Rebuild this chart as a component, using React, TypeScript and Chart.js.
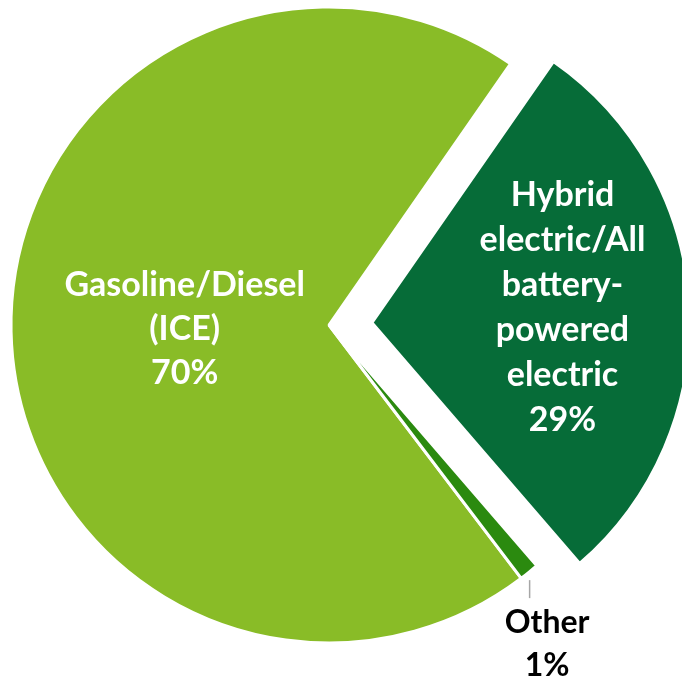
import React, { useEffect, useRef } from "react";
import { Chart, registerables } from "chart.js";

Chart.register(...registerables);

// Share of vehicles by powertrain
const categories = ["Gasoline/Diesel (ICE)", "Hybrid electric/All battery-powered electric", "Other"];
const shares = [70, 29, 1];
const labelLines = [
  ["Gasoline/Diesel", "(ICE)", "70%"],
  ["Hybrid", "electric/All", "battery-", "powered", "electric", "29%"],
  ["Other", "1%"],
];
const sliceColors = ["#89BC27", "#066C38", "#2B8A0F"];
// how far each slice is pulled out from the centre, in px
const explode = [0, 43, 0];

const FONT = "bold 34px Lato, 'Noto Sans', sans-serif";
const OTHER_FONT = "bold 32px Lato, 'Noto Sans', sans-serif";
const CAP_HALF = 12;

// Pull slices out along their mid-angle by translating the arc before it draws
const explodeSlices = {
  id: "explodeSlices",
  afterDatasetUpdate(chart: any, args: any) {
    const meta = chart.getDatasetMeta(args.index);
    meta.data.forEach((arc: any, i: number) => {
      const d = explode[i];
      if (!d) return;
      const baseDraw = Object.getPrototypeOf(arc).draw;
      arc.draw = function (ctx: CanvasRenderingContext2D) {
        const mid = (this.startAngle + this.endAngle) / 2;
        ctx.save();
        ctx.translate(Math.cos(mid) * d, Math.sin(mid) * d);
        baseDraw.call(this, ctx);
        ctx.restore();
      };
    });
  },
};

const sliceLabels = {
  id: "sliceLabels",
  afterDatasetsDraw(chart: any) {
    const ctx: CanvasRenderingContext2D = chart.ctx;
    const meta = chart.getDatasetMeta(0);
    ctx.save();
    ctx.textAlign = "center";
    ctx.textBaseline = "alphabetic";
    meta.data.forEach((arc: any, i: number) => {
      const { x, y, startAngle, endAngle, outerRadius } = arc.getProps(
        ["x", "y", "startAngle", "endAngle", "outerRadius"],
        true
      );
      const mid = (startAngle + endAngle) / 2;
      const off = explode[i];
      const lines = labelLines[i];
      if (i < 2) {
        // labels inside the slice
        ctx.font = FONT;
        const f = i === 0 ? 0.454 : 0.6;
        const ax = x + Math.cos(mid) * (off + outerRadius * f);
        const ay = y + Math.sin(mid) * (off + outerRadius * f) - (i === 1 ? 6 : 0);
        const lh = i === 0 ? 44 : 45;
        ctx.fillStyle = "#ffffff";
        lines.forEach((t, k) => {
          ctx.fillText(t, ax, ay - ((lines.length - 1) / 2) * lh + k * lh + CAP_HALF);
        });
      } else {
        // small slice: leader line and label below its rim
        const px = x + Math.cos(mid) * (outerRadius + off);
        const py = y + Math.sin(mid) * (outerRadius + off);
        ctx.strokeStyle = "#A6A6A6";
        ctx.lineWidth = 1.5;
        ctx.beginPath();
        ctx.moveTo(px + 0.5, py + 8);
        ctx.lineTo(px + 0.5, py + 26);
        ctx.stroke();
        ctx.font = OTHER_FONT;
        ctx.fillStyle = "#000000";
        const tx = px + 18;
        lines.forEach((t, k) => {
          ctx.fillText(t, tx, py + 61 + k * 43);
        });
      }
    });
    ctx.restore();
  },
};

export default function App() {
  const ref = useRef<HTMLCanvasElement | null>(null);
  useEffect(() => {
    if (!ref.current) return;
    const chart = new Chart(ref.current, {
      type: "pie",
      data: {
        labels: categories,
        datasets: [
          {
            data: shares,
            backgroundColor: sliceColors,
            borderColor: "#ffffff",
            borderWidth: 3,
            clip: false as any,
          },
        ],
      },
      options: {
        responsive: false,
        animation: false,
        devicePixelRatio: 1,
        rotation: 142.8,
        radius: 318,
        layout: { padding: { left: 0, top: 0, right: 24, bottom: 31 } },
        plugins: {
          legend: { display: false },
          tooltip: { enabled: false },
        },
      },
      plugins: [explodeSlices, sliceLabels],
    });
    return () => chart.destroy();
  }, []);
  return (
    <div style={{ position: "fixed", left: 0, top: 0, width: 682, height: 681, background: "#ffffff" }}>
      <canvas ref={ref} width={682} height={681} />
    </div>
  );
}
